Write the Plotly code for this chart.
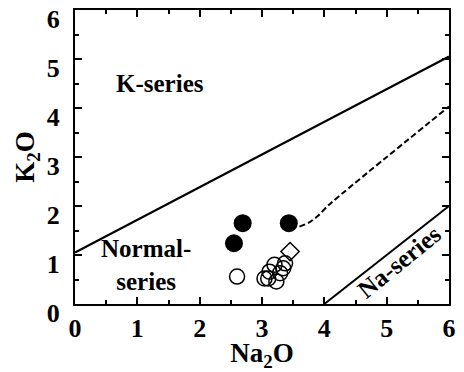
import plotly.graph_objects as go

# Series boundary lines (Na2O, K2O)
k_line_x = [0.0, 6.0]
k_line_y = [1.05, 5.05]
na_line_x = [4.0, 6.0]
na_line_y = [0.0, 2.0]

# Dashed trend from the high-K samples
trend_x = [3.6, 3.75, 3.9, 4.07, 6.0]
trend_y = [1.58, 1.66, 1.8, 2.02, 4.03]

# Samples
filled_x = [2.69, 3.43, 2.55]
filled_y = [1.65, 1.65, 1.24]
open_x = [2.6, 3.04, 3.12, 3.2, 3.1, 3.23, 3.34, 3.29, 3.37]
open_y = [0.56, 0.52, 0.66, 0.8, 0.52, 0.46, 0.73, 0.63, 0.83]
diamond_x = [3.45]
diamond_y = [1.07]

FONT = "Liberation Serif"

fig = go.Figure()
fig.add_trace(go.Scatter(x=k_line_x, y=k_line_y, mode="lines",
                         line=dict(color="black", width=2.2)))
fig.add_trace(go.Scatter(x=na_line_x, y=na_line_y, mode="lines",
                         line=dict(color="black", width=2)))
fig.add_trace(go.Scatter(x=trend_x, y=trend_y, mode="lines",
                         line=dict(color="black", width=2, dash="6px,3px",
                                   shape="spline", smoothing=0.6)))
fig.add_trace(go.Scatter(x=open_x, y=open_y, mode="markers",
                         marker=dict(symbol="circle-open", size=15,
                                     color="black", line=dict(width=1.5))))
fig.add_trace(go.Scatter(x=diamond_x, y=diamond_y, mode="markers",
                         marker=dict(symbol="diamond-open", size=14,
                                     color="black", line=dict(width=1.5))))
fig.add_trace(go.Scatter(x=filled_x, y=filled_y, mode="markers",
                         marker=dict(symbol="circle", size=18, color="black")))

label_font = dict(family=FONT, size=25, color="black", weight="bold")
fig.add_annotation(x=1.36, y=4.51, text="K-series", showarrow=False,
                   font=label_font)
fig.add_annotation(x=1.14, y=0.8, text="Normal-<br>series", showarrow=False,
                   font=label_font)
fig.add_annotation(x=5.21, y=0.86, text="Na-series", showarrow=False,
                   textangle=-39, font=label_font)

axis_common = dict(
    range=[0, 6], dtick=1, tick0=0,
    showgrid=False, zeroline=False,
    showline=True, linecolor="black", linewidth=2,
    mirror="allticks", ticks="inside", ticklen=7, tickwidth=1.5,
    tickcolor="black",
    minor=dict(ticks="inside", ticklen=4, dtick=0.5, tickwidth=1.5,
               tickcolor="black", showgrid=False),
    tickfont=dict(family=FONT, size=26, color="black", weight="bold"),
    ticklabeloverflow="allow",
    automargin=False,
)

fig.update_xaxes(**axis_common,
                 title=dict(text="Na<sub>2</sub>O", standoff=9,
                            font=dict(family=FONT, size=27, color="black",
                                      weight="bold")))
fig.update_yaxes(**axis_common, ticklabelstandoff=8, ticklabelshift=9,
                 title=dict(text="K<sub>2</sub>O", standoff=4,
                            font=dict(family=FONT, size=27, color="black",
                                      weight="bold")))

fig.update_layout(
    width=464, height=372,
    margin=dict(l=75, r=15, t=10, b=68),
    paper_bgcolor="white", plot_bgcolor="white",
    showlegend=False,
)

fig.write_html("out.html")
